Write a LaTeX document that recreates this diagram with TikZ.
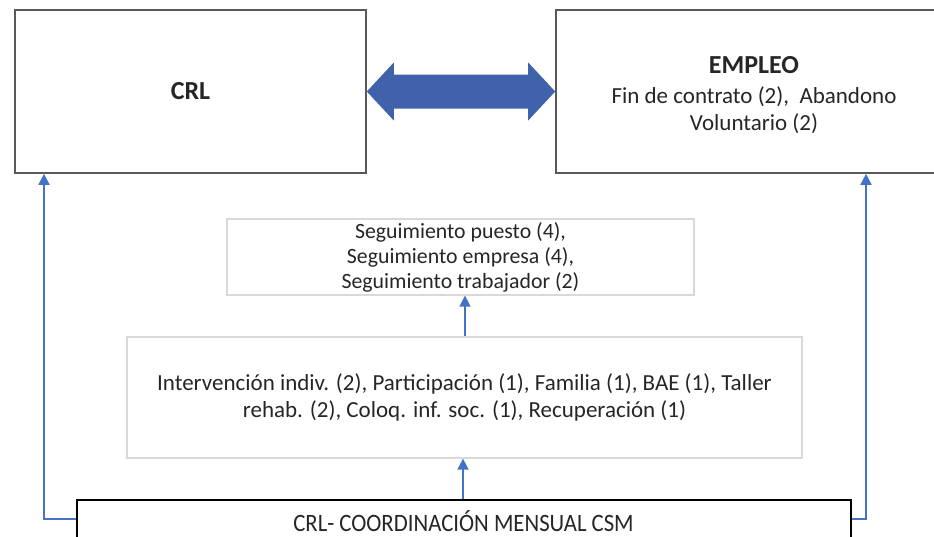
\documentclass[tikz,border=0pt]{standalone}
\usepackage{fontspec}
\setmainfont{Carlito}
\usetikzlibrary{arrows.meta}
\definecolor{conblue}{HTML}{4472C4}
\definecolor{bigarrow}{HTML}{3F62AB}
\definecolor{topgray}{HTML}{595959}
\definecolor{lightgray}{HTML}{D9D9D9}
\definecolor{txt}{HTML}{262626}
\begin{document}
\begin{tikzpicture}[x=1pt,y=-1pt,
  topbox/.style={draw=topgray,line width=1.6pt,minimum width=#1,minimum height=163,inner sep=0,align=center,text=txt},
  midbox/.style={draw=lightgray,line width=1.2pt,inner sep=0,align=center,text=txt},
  botbox/.style={draw=black,line width=1.3pt,inner sep=0},
  conn/.style={draw=conblue,line width=1.5pt,-{Triangle[width=11pt,length=11pt]}}]
\clip (0,0) rectangle (934,536);
\fill[white] (0,0) rectangle (934,536);
\node[topbox=351,font=\fontsize{26}{30}\selectfont\bfseries] (crl) at (190.5,91.5) {CRL};
\node[topbox=396,font=\fontsize{23}{27}\selectfont] (emp) at (754,91.5) {\rule{0pt}{24pt}{\fontsize{26}{30}\selectfont\bfseries EMPLEO}\\[3pt]
  Fin de contrato (2),~ Abandono\\ Voluntario (2)};
\node[midbox,minimum width=467,minimum height=76,font=\fontsize{21.8}{25}\selectfont] (seg) at (460.5,257)
  {Seguimiento puesto (4),\\ Seguimiento empresa (4),\\ Seguimiento trabajador (2)};
\node[midbox,minimum width=675,minimum height=121,font=\fontsize{23}{27}\selectfont] (int) at (464.5,397.5)
  {Intervención indiv. (2), Participación (1), Familia (1), BAE (1), Taller\\
   rehab. (2), Coloq. inf. soc. (1), Recuperación (1)};
\node[botbox,minimum width=774,minimum height=60] (bot) at (464,530) {};
\node[text=txt] (bottxt) at (463.5,521) {\scalebox{0.91}[1]{\fontsize{25}{28}\selectfont CRL- COORDINACIÓN MENSUAL CSM}};
% big double arrow
\fill[bigarrow] (crl.east) -- ++(27,-29) -- ++(0,12) -- ([shift={(-27,-17)}]emp.west) -- ++(0,-12)
  -- (emp.west) -- ++(-27,29) -- ++(0,-12) -- ([shift={(27,17)}]crl.east) -- ++(0,12) -- cycle;
% connectors
\coordinate (lc) at (44,519);
\coordinate (rc) at (866,519);
\draw[conn] (bot.west |- lc) -- (lc) -- (lc |- crl.south);
\draw[conn] (bot.east |- rc) -- (rc) -- (rc |- emp.south);
\draw[conn] (bot.north -| 463,0) -- (int.south -| 463,0);
\draw[conn] (int.north -| 465,0) -- (seg.south -| 465,0);
\end{tikzpicture}
\end{document}
